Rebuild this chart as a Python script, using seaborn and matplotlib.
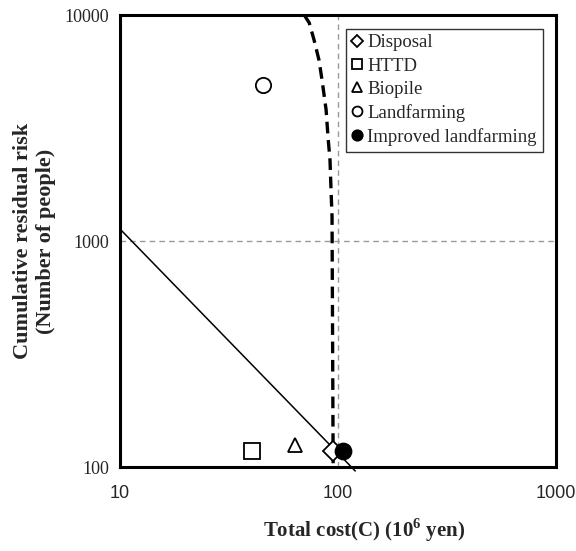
import numpy as np
import pandas as pd
import matplotlib
matplotlib.use("Agg")
import matplotlib.pyplot as plt
import seaborn as sns

# scenario points (cost in 10^6 yen, residual risk in people)
options = ['Disposal', 'HTTD', 'Biopile', 'Landfarming', 'Improved landfarming']
cost = [95, 40.5, 63.5, 45.5, 105]
risk = [118, 118, 125, 4900, 118]
markers = ['D', 's', '^', 'o', 'o']
fills = ['white', 'white', 'white', 'white', 'black']
sizes = [10, 11, 10, 11, 11.5]

# solid trade-off line
line_cost = [10, 120]
line_risk = [1130, 96]

# dashed boundary curve
curve_cost = [70, 73.8, 77.7, 81.8, 84.5, 88.2, 90, 91.9, 92.9, 93.9, 94, 94.5, 95]
curve_risk = [10000, 9230, 7740, 6320, 5150, 3800, 2880, 2280, 1680, 1280, 1000, 330, 100]

sns.set_style("white")
plt.rcParams['font.family'] = ['Liberation Serif', 'DejaVu Serif']
plt.rcParams['mathtext.fontset'] = 'custom'
plt.rcParams['mathtext.bf'] = 'Liberation Serif:bold'
plt.rcParams['mathtext.rm'] = 'Liberation Serif'

fig = plt.figure(figsize=(5.76, 5.51), dpi=100)
ax = fig.add_axes([120/576, 1-467/551, 436/576, 452/551])

ax.set_xscale('log')
ax.set_yscale('log')
ax.set_xlim(10, 1000)
ax.set_ylim(100, 10000)

# reference grid lines at 100 and 1000
ax.axvline(100, color='#999999', lw=1, ls=(0, (4, 3)), zorder=1)
ax.axhline(1000, color='#999999', lw=1, ls=(0, (4, 3)), zorder=1)

df_line = pd.DataFrame({'c': line_cost, 'r': line_risk})
sns.lineplot(data=df_line, x='c', y='r', ax=ax, color='black', lw=1.1,
             sort=False, zorder=2)
ax.lines[-1].set_clip_on(False)

df_curve = pd.DataFrame({'c': curve_cost, 'r': curve_risk})
sns.lineplot(data=df_curve, x='c', y='r', ax=ax, color='black', lw=2.4,
             sort=False, zorder=2)
ax.lines[-1].set_linestyle((0, (3.5, 2)))

for i, name in enumerate(options):
    ax.plot(cost[i], risk[i], marker=markers[i], ms=sizes[i], mfc=fills[i],
            mec='black', mew=1.3, ls='none', label=name, zorder=4)

leg = ax.legend(loc='upper right', bbox_to_anchor=(0.995, 0.995), frameon=True,
                fancybox=False, edgecolor='black', fontsize=13.5,
                markerscale=0.65, handlelength=0.6, handletextpad=0.25,
                borderpad=0.3, labelspacing=0.33, borderaxespad=0.6)
leg.get_frame().set_linewidth(1.0)

for s in ax.spines.values():
    s.set_linewidth(2.2)
    s.set_color('black')

ax.set_xticks([10, 100, 1000])
ax.set_xticklabels(['10', '100', '1000'], family='Liberation Sans', fontsize=13)
ax.set_yticks([100, 1000, 10000])
ax.set_yticklabels(['100', '1000', '10000'], fontsize=13)
ax.minorticks_off()
ax.tick_params(axis='both', which='major', direction='out', length=4,
               width=1, color='black', pad=4)
ax.tick_params(axis='x', pad=9)

ax.set_xlabel(r'Total cost(C) (10$^{\mathbf{6}}$ yen)', fontsize=15,
              fontweight='bold')
ax.xaxis.set_label_coords(0.56, -0.139)
ax.xaxis.label.set_va('center')
ax.set_ylabel('Cumulative residual risk\n(Number of people)', fontsize=16,
              fontweight='bold')
ax.yaxis.set_label_coords(-0.195, 0.5)
ax.yaxis.label.set_va('center')

fig.savefig('out.png', dpi=100)
